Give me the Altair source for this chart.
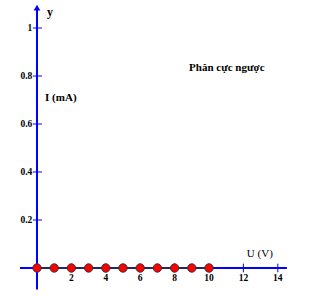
import altair as alt
import pandas as pd

# data
u_values = [0, 1, 2, 3, 4, 5, 6, 7, 8, 9, 10]
i_values = [0, 0, 0, 0, 0, 0, 0, 0, 0, 0, 0]
y_ticks = [0.2, 0.4, 0.6, 0.8, 1.0]
y_tick_labels = ["0.2", "0.4", "0.6", "0.8", "1"]
x_ticks = [2, 4, 6, 8, 10, 12, 14]
x_tick_labels = ["2", "4", "6", "8", "10", "12", "14"]

W, H = 325, 296
xs = alt.Scale(domain=[-2.151, 16.744], nice=False, zero=False)
ys = alt.Scale(domain=[-0.1167, 1.1167], nice=False, zero=False)
BLUE = "#0000ff"
FONT = "Liberation Serif"

pts = pd.DataFrame({"u": u_values, "i": i_values})

def X(f="x"):
    return alt.X(f"{f}:Q", scale=xs, axis=None)

def Y(f="y"):
    return alt.Y(f"{f}:Q", scale=ys, axis=None)

# axes lines
yaxis = alt.Chart(pd.DataFrame({"x": [0], "y": [-0.09], "y2": [1.075]})).mark_rule(
    color=BLUE, strokeWidth=2).encode(x=X(), y=Y(), y2="y2:Q")
xaxis = alt.Chart(pd.DataFrame({"x": [-0.99], "x2": [14.53], "y": [0]})).mark_rule(
    color=BLUE, strokeWidth=2).encode(x=X(), x2="x2:Q", y=Y())
arrow = alt.Chart(pd.DataFrame({"x": [0], "y": [1.085]})).mark_point(
    shape="triangle-up", filled=True, color=BLUE, size=45, opacity=1).encode(x=X(), y=Y())

ytk = pd.DataFrame({"y": y_ticks, "lab": y_tick_labels})
ytick_marks = alt.Chart(ytk).mark_rule(color=BLUE, strokeWidth=1).encode(
    x=alt.X("a:Q", scale=xs, axis=None), x2="b:Q", y=Y()
).transform_calculate(a="-0.24", b="0.29")
ytick_text = alt.Chart(ytk).mark_text(
    align="right", baseline="middle", font=FONT, fontSize=9.5, fontWeight="bold", color="black"
).encode(x=alt.X("a:Q", scale=xs, axis=None), y=Y(), text="lab:N").transform_calculate(a="-0.27")

xtk = pd.DataFrame({"x": x_ticks, "lab": x_tick_labels})
xtick_marks = alt.Chart(xtk).mark_rule(color=BLUE, strokeWidth=1).encode(
    x=X(), y=alt.Y("a:Q", scale=ys, axis=None), y2="b:Q"
).transform_calculate(a="-0.018", b="0.018")
xtick_text = alt.Chart(xtk).mark_text(
    align="center", baseline="middle", font=FONT, fontSize=9.5, fontWeight="bold", color="black"
).encode(x=X(), y=alt.Y("a:Q", scale=ys, axis=None), text="lab:N").transform_calculate(a="-0.042")

line = alt.Chart(pts).mark_line(color="#333333", strokeWidth=1.5).encode(
    x=X("u"), y=Y("i"))
dots = alt.Chart(pts).mark_point(
    filled=True, fill="#ff0000", stroke="#333333", strokeWidth=1, size=70, opacity=1
).encode(x=X("u"), y=Y("i"))

labels = pd.DataFrame({
    "x": [0.58, 0.47, 8.84, 12.2],
    "y": [1.067, 0.708, 0.833, 0.058],
    "t": ["y", "I (mA)", "Phân cực ngược", "U (V)"],
    "w": ["bold", "bold", "bold", "normal"],
    "s": [12, 11, 11, 11],
})
lab_bold = alt.Chart(labels).transform_filter("datum.w == 'bold'").mark_text(
    align="left", baseline="middle", font=FONT, fontWeight="bold", color="black"
).encode(x=X(), y=Y(), text="t:N", size=alt.Size("s:Q", scale=None, legend=None))
lab_norm = alt.Chart(labels).transform_filter("datum.w == 'normal'").mark_text(
    align="left", baseline="middle", font=FONT, color="black"
).encode(x=X(), y=Y(), text="t:N", size=alt.Size("s:Q", scale=None, legend=None))

chart = alt.layer(
    yaxis, xaxis, arrow, ytick_marks, xtick_marks, ytick_text, xtick_text,
    line, dots, lab_bold, lab_norm
).properties(
    width=W, height=H, padding=0, autosize=alt.AutoSizeParams(type="none"),
    background="white"
).configure_view(stroke=None)

chart.save("out.html", embed_options={"renderer": "svg", "actions": False})
